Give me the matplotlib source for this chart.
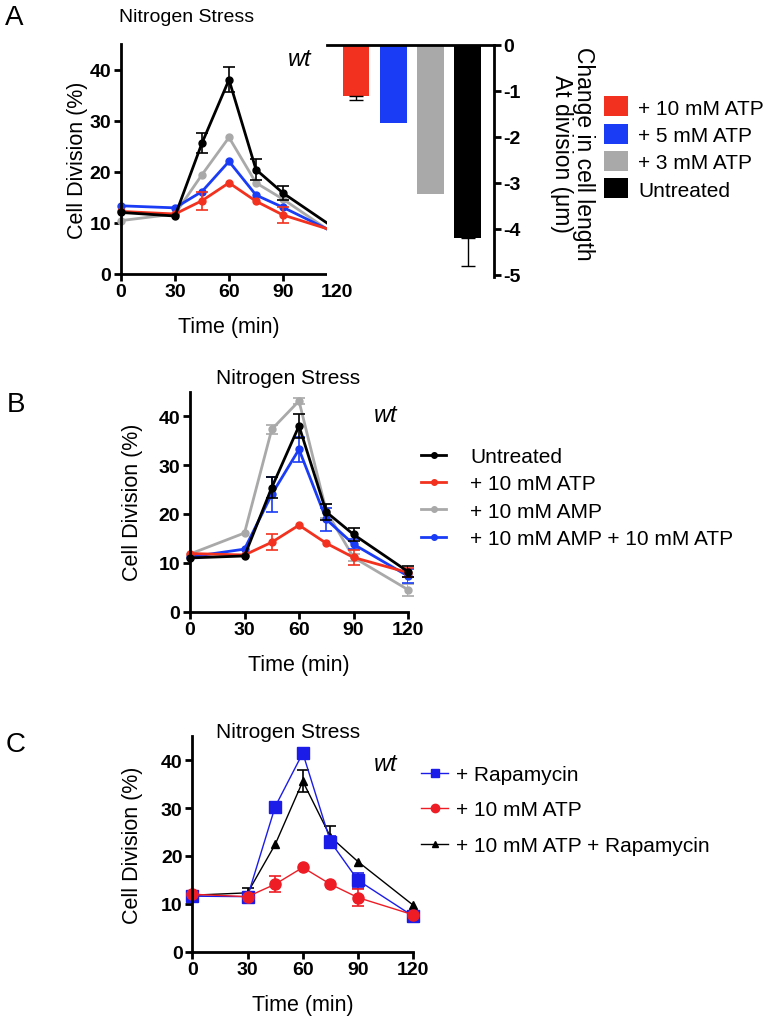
import numpy as np
import matplotlib
matplotlib.use('Agg')
import matplotlib.pyplot as plt
from matplotlib.patches import Patch
from matplotlib.lines import Line2D

plt.rcParams['font.family'] = ['Liberation Sans', 'DejaVu Sans']

W, H = 773, 1020

time = [0, 30, 45, 60, 75, 90, 120]

# panel A - lines
a_untreated = [12.0, 11.3, 25.6, 38.0, 20.4, 15.8, 8.6]
a_untreated_err = [0, 0, 1.9, 2.5, 2.0, 1.4, 0]
a_atp10 = [12.2, 11.7, 14.3, 17.8, 14.2, 11.5, 8.2]
a_atp10_err = [0, 0, 1.8, 0, 0, 1.6, 0]
a_atp5 = [13.3, 12.9, 16.1, 22.0, 15.4, 13.0, 7.8]
a_atp3 = [10.4, 11.7, 19.4, 26.7, 17.8, 14.6, 7.4]

# panel A - bars
bar_labels = ['+ 10 mM ATP', '+ 5 mM ATP', '+ 3 mM ATP', 'Untreated']
bar_values = [-1.1, -1.7, -3.25, -4.2]
bar_err = [0.1, 0, 0, 0.6]

# panel B
b_untreated = [11.0, 11.4, 25.4, 38.0, 20.4, 15.8, 8.2]
b_untreated_err = [0, 0, 2.1, 2.5, 1.6, 1.3, 1.2]
b_atp10 = [11.9, 11.6, 14.2, 17.7, 14.0, 11.1, 8.0]
b_atp10_err = [0, 0, 1.6, 0, 0, 1.6, 1.0]
b_amp10 = [11.8, 16.1, 37.3, 43.1, 20.6, 11.1, 4.5]
b_amp10_err = [0, 0, 0.9, 0.7, 1.5, 0.8, 1.2]
b_amp_atp = [11.2, 12.8, 24.0, 33.2, 18.9, 13.8, 7.3]
b_amp_atp_err = [0, 0, 3.6, 2.5, 2.4, 1.0, 1.4]

# panel C
c_rapa = [11.6, 11.5, 30.3, 41.5, 23.0, 14.9, 7.4]
c_rapa_err = [0, 0, 0, 0, 1.2, 1.6, 0.8]
c_atp10 = [12.0, 11.5, 14.1, 17.6, 14.1, 11.3, 7.7]
c_atp10_err = [0, 0, 1.7, 0, 0, 1.8, 0]
c_atp_rapa = [11.8, 12.3, 22.4, 35.6, 24.0, 18.8, 9.7]
c_atp_rapa_err = [0, 1.0, 0, 2.3, 2.3, 0, 0]

RED = '#f2321e'
BLUE = '#1a3cf5'
GRAY = '#a9a9a9'
BLACK = '#000000'
C_RED = '#ee1c25'
C_BLUE = '#1c1ce8'


def add_ax(fig, left, top, right, bottom):
    return fig.add_axes([left / W, 1 - bottom / H, (right - left) / W, (bottom - top) / H])


def series(ax, y, err, color, marker='o', ms=5, lw=2, label=None, z=2):
    ax.plot(time, y, color=color, marker=marker, ms=ms, lw=lw, label=label, zorder=z)
    e = np.array(err, dtype=float)
    m = e > 0
    if m.any():
        ax.errorbar(np.array(time)[m], np.array(y)[m], yerr=e[m], fmt='none',
                    ecolor=color, elinewidth=1.2, capsize=4, capthick=1.2, zorder=z)


def style_line_ax(ax, ylab_x):
    ax.set_xlim(0, 120)
    ax.set_ylim(0, 45)
    ax.set_xticks([0, 30, 60, 90, 120])
    ax.set_yticks([0, 10, 20, 30, 40])
    for s in ['top', 'right']:
        ax.spines[s].set_visible(False)
    for s in ['left', 'bottom']:
        ax.spines[s].set_linewidth(2)
    ax.tick_params(width=2, length=5, labelsize=14, pad=2)
    for t in ax.get_xticklabels() + ax.get_yticklabels():
        t.set_fontweight('bold')
    ax.set_xlabel('Time (min)', fontsize=15.5, labelpad=11)
    ax.set_ylabel('Cell Division (%)', fontsize=15.5)
    # ylabel x position given in figure pixels
    bb = ax.get_position()
    ax.yaxis.set_label_coords((ylab_x / W - bb.x0) / bb.width, 0.5)
    ax.patch.set_alpha(0)
    for a in ax.lines:
        a.set_clip_on(False)


fig = plt.figure(figsize=(W / 100, H / 100), dpi=100)

# ---- A ----
axA = add_ax(fig, 121, 45, 337, 274.7)
series(axA, a_atp3, [0] * 7, GRAY)
series(axA, a_atp5, [0] * 7, BLUE)
series(axA, a_atp10, a_atp10_err, RED)
series(axA, a_untreated, a_untreated_err, BLACK)
style_line_ax(axA, 88)
axA.xaxis.get_major_ticks()[-1].tick1line.set_visible(False)
fig.text(119 / W, 1 - 17 / H, 'Nitrogen Stress', fontsize=14, ha='left', va='center')
fig.text(300 / W, 1 - 60 / H, 'wt', fontsize=17, style='italic', ha='center', va='center')
fig.text(14 / W, 1 - 18 / H, 'A', fontsize=20, ha='center', va='center')

# inset bar chart (white patch hides end of the line plot)
axBar = add_ax(fig, 327, 46, 494, 278)
bar_colors = [RED, BLUE, GRAY, BLACK]
x = np.arange(len(bar_values))
axBar.bar(x, bar_values, width=0.72, color=bar_colors, zorder=2)
for xi, v, e in zip(x, bar_values, bar_err):
    if e > 0:
        axBar.errorbar(xi, v, yerr=[[e], [0]], fmt='none', ecolor=BLACK,
                       elinewidth=1, capsize=5, capthick=1)
axBar.set_xlim(-0.78, 3.7)
axBar.set_ylim(-5.05, 0)
axBar.set_facecolor('white')
axBar.set_zorder(5)
axBar.spines['left'].set_visible(False)
axBar.spines['bottom'].set_visible(False)
axBar.spines['top'].set_linewidth(2)
axBar.spines['right'].set_linewidth(2)
axBar.set_xticks([])
axBar.yaxis.tick_right()
axBar.set_yticks([0, -1, -2, -3, -4, -5])
axBar.set_yticklabels(['0', '-1', '-2', '-3', '-4', '-5'])
axBar.tick_params(axis='y', width=2, length=5, labelsize=14, pad=2)
for t in axBar.get_yticklabels():
    t.set_fontweight('bold')
axBar.yaxis.set_label_position('right')
axBar.set_ylabel('Change in cell length\nAt division (\u03bcm)', fontsize=16.5,
                 rotation=270, labelpad=53, linespacing=0.95)
axBar.yaxis.label.set_y(0.535)

handlesA = [Patch(facecolor=c, edgecolor='none') for c in bar_colors]
fig.legend(handlesA, bar_labels, loc='center left', bbox_to_anchor=(604 / W, 1 - 149 / H),
           frameon=False, fontsize=15, handlelength=1.15, handleheight=1.1,
           handletextpad=0.5, labelspacing=0.3, borderaxespad=0, borderpad=0)

# ---- B ----
axB = add_ax(fig, 190, 392.7, 408, 612.7)
series(axB, b_amp10, b_amp10_err, GRAY, label='+ 10 mM AMP')
series(axB, b_amp_atp, b_amp_atp_err, BLUE, label='+ 10 mM AMP + 10 mM ATP')
series(axB, b_atp10, b_atp10_err, RED, label='+ 10 mM ATP')
series(axB, b_untreated, b_untreated_err, BLACK, label='Untreated')
style_line_ax(axB, 143)
fig.text(288 / W, 1 - 378 / H, 'Nitrogen Stress', fontsize=15, ha='center', va='center')
fig.text(386 / W, 1 - 415 / H, 'wt', fontsize=17, style='italic', ha='center', va='center')
fig.text(16 / W, 1 - 405 / H, 'B', fontsize=20, ha='center', va='center')
hB = [Line2D([], [], color=c, marker='o', ms=4, lw=2) for c in [BLACK, RED, GRAY, BLUE]]
fig.legend(hB, ['Untreated', '+ 10 mM ATP', '+ 10 mM AMP', '+ 10 mM AMP + 10 mM ATP'],
           loc='center left', bbox_to_anchor=(421 / W, 1 - 498.5 / H), frameon=False,
           fontsize=15, handlelength=1.2, handletextpad=1.15, labelspacing=0.4,
           borderaxespad=0, borderpad=0)

# ---- C ----
axC = add_ax(fig, 192.3, 737.3, 413.3, 952.7)
series(axC, c_atp_rapa, c_atp_rapa_err, BLACK, marker='^', ms=6, lw=1)
series(axC, c_rapa, c_rapa_err, C_BLUE, marker='s', ms=8, lw=1)
series(axC, c_atp10, c_atp10_err, C_RED, marker='o', ms=8, lw=1)
style_line_ax(axC, 143)
fig.text(288 / W, 1 - 733 / H, 'Nitrogen Stress', fontsize=15, ha='center', va='center')
fig.text(386 / W, 1 - 765 / H, 'wt', fontsize=17, style='italic', ha='center', va='center')
fig.text(16 / W, 1 - 745 / H, 'C', fontsize=20, ha='center', va='center')
hC = [Line2D([], [], color=C_BLUE, marker='s', ms=6, lw=1),
      Line2D([], [], color=C_RED, marker='o', ms=6, lw=1),
      Line2D([], [], color=BLACK, marker='^', ms=5, lw=1)]
fig.legend(hC, ['+ Rapamycin', '+ 10 mM ATP', '+ 10 mM ATP + Rapamycin'],
           loc='center left', bbox_to_anchor=(421 / W, 1 - 811 / H), frameon=False,
           fontsize=15, handlelength=1.3, handletextpad=0.4, labelspacing=0.8,
           borderaxespad=0, borderpad=0)

fig.savefig('out.png', dpi=100)
